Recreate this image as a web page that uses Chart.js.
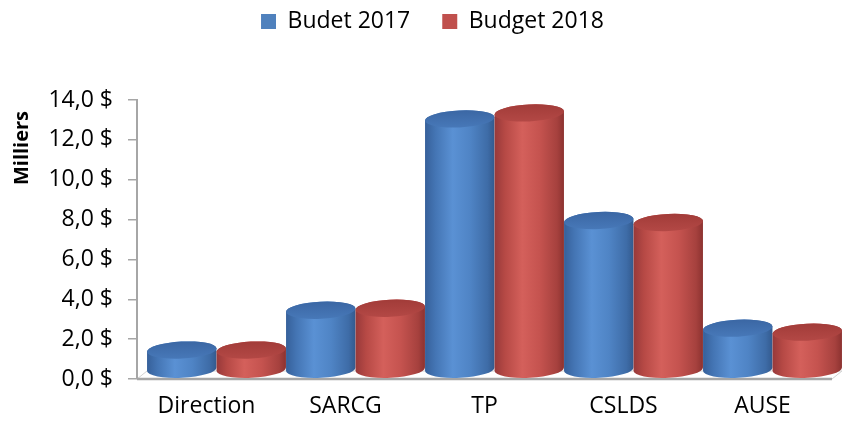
<!DOCTYPE html>
<html><head><meta charset="utf-8">
<script src="https://cdn.jsdelivr.net/npm/chart.js@4/dist/chart.umd.min.js"></script>
<style>html,body{margin:0;padding:0;background:#fff}#wrap{width:843px;height:421px}</style>
</head><body><div id="wrap"><canvas id="c" width="843" height="421"></canvas></div>
<script>
const categories = ['Direction', 'SARCG', 'TP', 'CSLDS', 'AUSE'];
const seriesNames = ['Budet 2017', 'Budget 2018'];
const budget2017 = [1.0, 3.0, 12.6, 7.5, 2.1];
const budget2018 = [1.0, 3.1, 12.9, 7.4, 1.9];
const yTickValues = [0, 2, 4, 6, 8, 10, 12, 14];
const axisTitle = 'Milliers';

const fmt = v => v.toFixed(1).replace('.', ',') + ' $';

const palettes = [
  {body: [[0,'#36609A'],[0.15,'#4475B4'],[0.4,'#5A91D4'],[0.65,'#4F84C5'],[0.9,'#3E6CA7'],[1,'#335A8E']],
   top: ['#3B67A4', '#4778B8']},
  {body: [[0,'#97393A'],[0.15,'#B64945'],[0.4,'#D4605B'],[0.65,'#C5534F'],[0.9,'#A6413E'],[1,'#8C3230']],
   top: ['#A23C39', '#B34845']}
];

const DX = 10, DY = 9, RY = 8.5, ROT = -0.05;

const cylPlugin = {
  id: 'cyl',
  beforeInit(chart) {
    const lg = chart.legend;
    if (lg) {
      const fit = lg.fit;
      lg.fit = function() { fit.call(this); this.height += 57; };
    }
  },
  beforeDatasetsDraw(chart) {
    const ctx = chart.ctx;
    const a = chart.chartArea;
    ctx.save();
    // floor
    ctx.strokeStyle = '#D2D2D2';
    ctx.lineWidth = 1;
    ctx.beginPath();
    ctx.moveTo(a.left, a.bottom);
    ctx.lineTo(a.left + DX, a.bottom - 8);
    ctx.lineTo(a.right + DX, a.bottom - 8);
    ctx.lineTo(a.right, a.bottom);
    ctx.stroke();
    ctx.strokeStyle = '#A6A6A6';
    ctx.lineWidth = 2.5;
    ctx.beginPath();
    ctx.moveTo(a.left, a.bottom);
    ctx.lineTo(a.right, a.bottom);
    ctx.stroke();
    ctx.restore();

    const nCat = chart.data.labels.length;
    for (let i = 0; i < nCat; i++) {
      chart.data.datasets.forEach((ds, d) => {
        const el = chart.getDatasetMeta(d).data[i];
        if (!el) return;
        const p = el.getProps(['x', 'y', 'base', 'width'], true);
        const cx = p.x + DX;
        const rx = p.width / 2;
        const ty = p.y - DY;
        const by = p.base - DY;
        const pal = palettes[d];
        const cr = Math.cos(ROT), sr = Math.sin(ROT);
        ctx.save();
        const g = ctx.createLinearGradient(cx - rx, 0, cx + rx, 0);
        pal.body.forEach(s => g.addColorStop(s[0], s[1]));
        ctx.fillStyle = g;
        ctx.beginPath();
        ctx.moveTo(cx - rx * cr, ty - rx * sr);
        ctx.lineTo(cx - rx * cr, by - rx * sr);
        ctx.ellipse(cx, by, rx, RY, ROT, Math.PI, 0, true);
        ctx.lineTo(cx + rx * cr, ty + rx * sr);
        ctx.ellipse(cx, ty, rx, RY, ROT, 0, Math.PI, true);
        ctx.closePath();
        ctx.fill();
        const tg = ctx.createLinearGradient(0, ty - RY, 0, ty + RY);
        tg.addColorStop(0, pal.top[0]);
        tg.addColorStop(1, pal.top[1]);
        ctx.fillStyle = tg;
        ctx.beginPath();
        ctx.ellipse(cx, ty, rx, RY, ROT, 0, Math.PI * 2);
        ctx.fill();
        ctx.restore();
      });
    }
    return false;
  },
  afterDraw(chart) {
    const ctx = chart.ctx;
    ctx.save();
    ctx.translate(22, 148);
    ctx.rotate(-Math.PI / 2);
    ctx.fillStyle = '#000';
    ctx.font = "bold 20px 'Open Sans'";
    ctx.textAlign = 'center';
    ctx.textBaseline = 'middle';
    ctx.fillText(axisTitle, 0, 0);
    ctx.restore();
  }
};

Chart.defaults.font.family = "'Open Sans'";
Chart.defaults.color = '#000';

new Chart(document.getElementById('c'), {
  type: 'bar',
  data: {
    labels: categories,
    datasets: [
      {label: seriesNames[0], data: budget2017, backgroundColor: '#4F81BD'},
      {label: seriesNames[1], data: budget2018, backgroundColor: '#C0504D'}
    ]
  },
  options: {
    responsive: false,
    animation: false,
    layout: {padding: {top: -22, left: 33, right: 11, bottom: 0}},
    datasets: {bar: {categoryPercentage: 1.0, barPercentage: 1.0}},
    plugins: {
      legend: {
        position: 'top',
        labels: {boxWidth: 15, boxHeight: 15, padding: 32, color: '#000', font: {size: 23}}
      },
      tooltip: {enabled: false}
    },
    scales: {
      x: {
        grid: {display: false, drawTicks: false},
        border: {display: false},
        ticks: {padding: 14, font: {size: 23}, color: '#000'},
        afterFit(s) { s.height = 42; }
      },
      y: {
        min: 0, max: 14,
        afterBuildTicks(s) { s.ticks = yTickValues.map(v => ({value: v})); },
        grid: {display: true, drawOnChartArea: false, drawTicks: true, tickLength: 9, color: '#A6A6A6', lineWidth: 1.5},
        border: {display: true, color: '#A6A6A6', width: 2},
        ticks: {padding: 15, font: {size: 23}, color: '#000', callback: v => fmt(v)},
        afterFit(s) { s.width = 104; }
      }
    }
  },
  plugins: [cylPlugin]
});
</script>
</body></html>
